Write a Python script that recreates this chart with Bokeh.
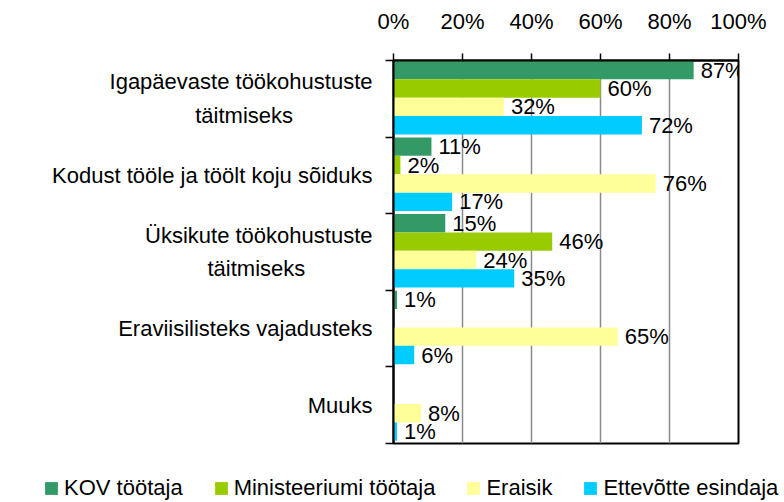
from bokeh.plotting import figure
from bokeh.layouts import column
from bokeh.models import (Range1d, FixedTicker, ColumnDataSource, LabelSet, Legend,
                          LegendItem, PrintfTickFormatter)
from bokeh.core.properties import value
from bokeh.embed import file_html
from bokeh.resources import INLINE

# ---- data ----
NB = "\u00a0"
categories = ["Igapäevaste töökohustuste\ntäitmiseks" + NB * 13,
              "Kodust tööle ja töölt koju sõiduks",
              "Üksikute töökohustuste\ntäitmiseks" + NB * 11,
              "Eraviisilisteks vajadusteks",
              "Muuks"]
series = ["KOV töötaja", "Ministeeriumi töötaja", "Eraisik", "Ettevõtte esindaja"]
kov_tootaja = [87, 11, 15, 1, None]
ministeeriumi_tootaja = [60, 2, 46, None, None]
eraisik = [32, 76, 24, 65, 8]
ettevotte_esindaja = [72, 17, 35, 6, 1]
x_ticks = [0, 20, 40, 60, 80, 100]

values = [kov_tootaja, ministeeriumi_tootaja, eraisik, ettevotte_esindaja]
colors = ["#339966", "#99CC00", "#FFFF99", "#00CCFF"]
FONT = "Liberation Sans"
FS = "22px"

MAIN_H = 460
p = figure(width=784, height=MAIN_H, x_range=Range1d(0, 100), y_range=Range1d(5, 0),
           x_axis_location="above", output_backend="svg", toolbar_location=None,
           min_border_left=393, min_border_top=60, min_border_right=46,
           min_border_bottom=MAIN_H - 443)
p.frame_align = False
p.background_fill_color = "white"
p.border_fill_color = "white"
p.outline_line_color = "black"
p.outline_line_width = 2

offsets = [0.125, 0.365, 0.605, 0.845]
bar_h = 0.24
for j, (name, vals, col) in enumerate(zip(series, values, colors)):
    ys, vs, ts = [], [], []
    for i, v in enumerate(vals):
        if v is None:
            continue
        ys.append(i + offsets[j])
        vs.append(v)
        ts.append(f"{v}%")
    src = ColumnDataSource(dict(y=ys, v=vs, t=ts))
    p.hbar(y="y", left=0, right="v", height=bar_h, source=src,
           fill_color=col, line_color=None)
    labels = LabelSet(x="v", y="y", text="t", source=src, x_offset=7,
                      text_baseline="middle", text_align="left",
                      text_font=value(FONT), text_font_size=value(FS), text_color="black")
    p.add_layout(labels)

# x axis (top)
xa = p.xaxis[0]
xa.ticker = FixedTicker(ticks=x_ticks)
xa.formatter = PrintfTickFormatter(format="%d%%")
xa.major_tick_out = 7
xa.major_tick_in = 0
xa.minor_tick_line_color = None
xa.axis_line_width = 2
xa.major_tick_line_width = 1.5
xa.major_label_text_font = FONT
xa.major_label_text_font_size = FS
xa.major_label_text_color = "black"
xa.major_label_standoff = 20

# y axis (left)
ya = p.yaxis[0]
ya.ticker = FixedTicker(ticks=[i + 0.5 for i in range(len(categories))],
                        minor_ticks=list(range(len(categories) + 1)))
ya.major_label_overrides = {i + 0.5: c for i, c in enumerate(categories)}
ya.major_tick_line_color = None
ya.major_tick_out = 0
ya.major_tick_in = 0
ya.minor_tick_out = 8
ya.minor_tick_in = 0
ya.minor_tick_line_color = "black"
ya.minor_tick_line_width = 1.5
ya.axis_line_width = 2
ya.major_label_text_font = FONT
ya.major_label_text_font_size = FS
ya.major_label_text_color = "black"
ya.major_label_text_line_height = 1.35
ya.major_label_standoff = 13

p.xgrid.ticker = FixedTicker(ticks=[20, 40, 60, 80])
p.xgrid.grid_line_color = "#8a8a8a"
p.xgrid.grid_line_width = 1.5
p.ygrid.visible = False

# legend strip (separate figure below the chart)
LEG_H = 42
lf = figure(width=784, height=LEG_H, x_range=Range1d(0, 1), y_range=Range1d(0, 1),
            output_backend="svg", toolbar_location=None,
            min_border_left=0, min_border_right=0, min_border_top=0, min_border_bottom=0)
lf.frame_align = False
lf.axis.visible = False
lf.grid.visible = False
lf.outline_line_color = None
lf.background_fill_color = "white"
lf.border_fill_color = "white"
items = []
for name, col, vals in zip(series, colors, values):
    # legend proxy glyph, placed outside the visible range of the strip
    first = next(v for v in vals if v is not None)
    r = lf.hbar(y=[-50], left=[-50], right=[-50 + first], height=0.5,
                fill_color=col, line_color=None)
    items.append(LegendItem(label=name, renderers=[r]))
legend = Legend(items=items, orientation="horizontal", location=(43, 1),
                label_text_font=FONT, label_text_font_size=FS, label_text_color="black",
                glyph_width=16, glyph_height=16, label_standoff=5, spacing=30,
                padding=0, margin=0, border_line_color=None, background_fill_alpha=0)
lf.add_layout(legend, "center")

layout = column(p, lf, spacing=0)
open("out.html", "w").write(file_html(layout, INLINE))
